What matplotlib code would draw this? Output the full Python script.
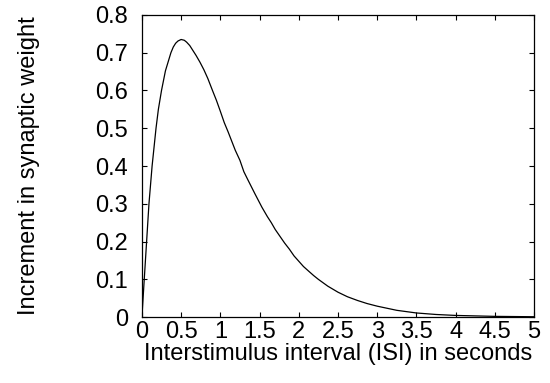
import matplotlib
matplotlib.use("Agg")
import matplotlib.pyplot as plt

# values
isi = [0, 0.03, 0.06, 0.09, 0.13, 0.18, 0.21, 0.25, 0.30, 0.37, 0.40, 0.43,
       0.46, 0.50, 0.54, 0.57, 0.61, 0.65, 0.69, 0.74, 0.79, 0.84, 0.90,
       0.95, 1.0, 1.05, 1.1, 1.19, 1.25, 1.30, 1.35, 1.44, 1.53, 1.6, 1.65,
       1.7, 1.76, 1.82, 1.88, 1.94, 2.0, 2.06, 2.13, 2.19, 2.25, 2.37, 2.5,
       2.62, 2.75, 2.87, 3.0, 3.25, 3.5, 3.75, 4.0, 4.5, 5.0]
weight = [0, 0.10, 0.20, 0.30, 0.40, 0.50, 0.55, 0.60, 0.652, 0.700, 0.715,
          0.725, 0.731, 0.735, 0.733, 0.728, 0.719, 0.706, 0.693, 0.675,
          0.655, 0.632, 0.600, 0.574, 0.545, 0.515, 0.490, 0.442, 0.415,
          0.385, 0.364, 0.327, 0.291, 0.266, 0.250, 0.232, 0.214, 0.196,
          0.180, 0.162, 0.148, 0.134, 0.121, 0.110, 0.100, 0.082, 0.066,
          0.054, 0.044, 0.036, 0.029, 0.018, 0.011, 0.007, 0.0045, 0.002,
          0.001]

x_ticks = [0, 0.5, 1, 1.5, 2, 2.5, 3, 3.5, 4, 4.5, 5]
x_labels = ['0', '0.5', '1', '1.5', '2', '2.5', '3', '3.5', '4', '4.5', '5']
y_ticks = [0, 0.1, 0.2, 0.3, 0.4, 0.5, 0.6, 0.7, 0.8]
y_labels = ['0', '0.1', '0.2', '0.3', '0.4', '0.5', '0.6', '0.7', '0.8']

plt.rcParams['font.family'] = ['Liberation Sans', 'DejaVu Sans']
plt.rcParams['font.size'] = 17

fig = plt.figure(figsize=(5.5, 3.83), dpi=100)
ax = fig.add_axes([0.258, 0.172, 0.713, 0.789])

ax.plot(isi, weight, color='black', linewidth=0.9)

ax.set_xlim(0, 5)
ax.set_ylim(0, 0.8)
ax.set_xticks(x_ticks)
ax.set_xticklabels(x_labels)
ax.set_yticks(y_ticks)
ax.set_yticklabels(y_labels)
ax.tick_params(direction='in', length=3.5, width=0.8, top=True, right=True)
ax.tick_params(axis='x', pad=3)
ax.tick_params(axis='y', pad=10)
for s in ax.spines.values():
    s.set_linewidth(0.9)

ax.set_xlabel('Interstimulus interval (ISI) in seconds', labelpad=0)
ax.set_ylabel('Increment in synaptic weight', labelpad=40)

fig.savefig('out.png', dpi=100)
